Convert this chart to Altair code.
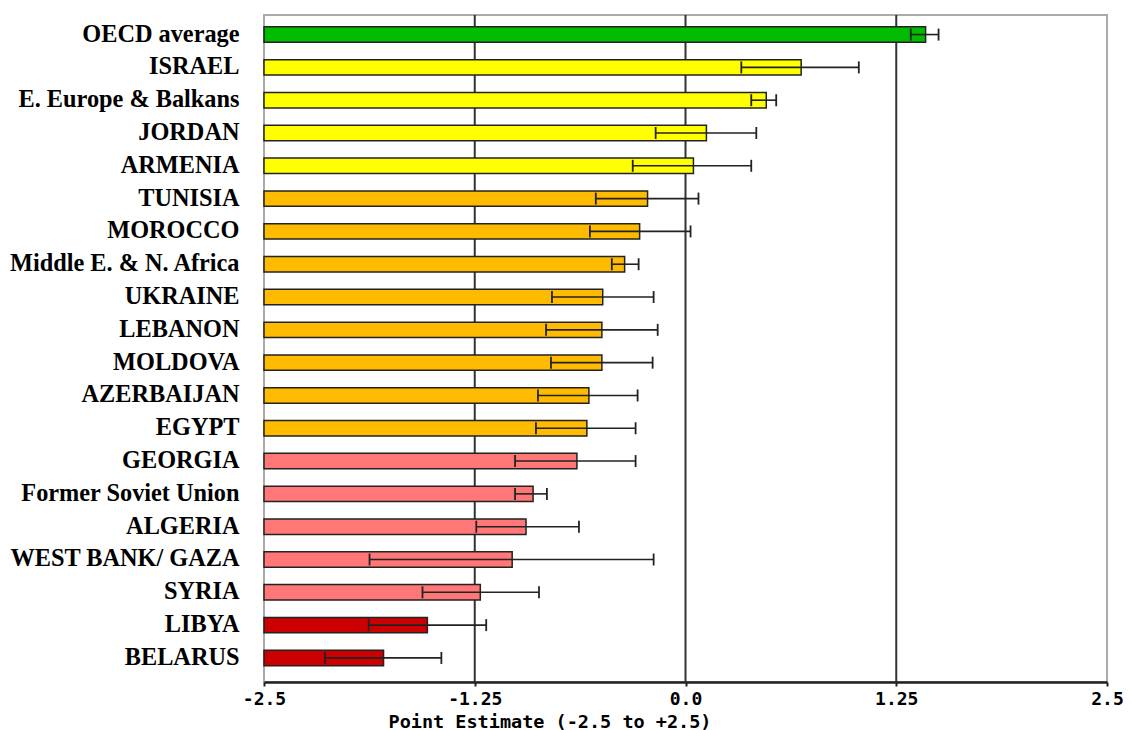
import altair as alt
import pandas as pd

countries = ["OECD average", "ISRAEL", "E. Europe & Balkans", "JORDAN", "ARMENIA",
             "TUNISIA", "MOROCCO", "Middle E. & N. Africa", "UKRAINE", "LEBANON",
             "MOLDOVA", "AZERBAIJAN", "EGYPT", "GEORGIA", "Former Soviet Union",
             "ALGERIA", "WEST BANK/ GAZA", "SYRIA", "LIBYA", "BELARUS"]
estimates = [1.424, 0.686, 0.479, 0.124, 0.047,
             -0.225, -0.272, -0.361, -0.491, -0.496,
             -0.496, -0.573, -0.585, -0.644, -0.904,
             -0.946, -1.028, -1.217, -1.531, -1.791]
lower = [1.336, 0.331, 0.390, -0.177, -0.313,
         -0.532, -0.567, -0.437, -0.792, -0.827,
         -0.798, -0.875, -0.887, -1.011, -1.011,
         -1.241, -1.874, -1.560, -1.879, -2.139]
upper = [1.501, 1.028, 0.538, 0.420, 0.390,
         0.077, 0.030, -0.278, -0.189, -0.165,
         -0.195, -0.284, -0.296, -0.296, -0.822,
         -0.632, -0.189, -0.869, -1.182, -1.448]
groups = ["g", "y", "y", "y", "y",
          "o", "o", "o", "o", "o",
          "o", "o", "o", "p", "p",
          "p", "p", "p", "r", "r"]
group_keys = ["g", "y", "o", "p", "r"]
group_colors = ["#00BB00", "#FFFF00", "#FFBB00", "#FF7777", "#CC0000"]
tick_values = [-2.5, -1.25, 0, 1.25, 2.5]
grid_values = [-1.25, 0, 1.25]

df = pd.DataFrame({"country": countries, "est": estimates, "lo": lower,
                   "hi": upper, "grp": groups, "base": [-2.5] * len(countries)})
grid_df = pd.DataFrame({"g": grid_values})

xscale = alt.Scale(domain=[-2.5, 2.5], nice=False, zero=False)
yscale = alt.Scale(paddingInner=0.53, paddingOuter=0.43, align=0.42)
ysort = countries

xaxis = alt.Axis(values=tick_values, grid=False,
                 labelExpr="datum.value == 0 ? '0.0' : '' + datum.value",
                 labelFont="DejaVu Sans Mono", labelFontWeight="bold", labelFontSize=18,
                 labelColor="#000", labelPadding=4, tickSize=4, tickColor="#222",
                 tickWidth=2, domainColor="#222", domainWidth=2.5,
                 labelOverlap=False, labelFlush=False,
                 title="Point Estimate (-2.5 to +2.5)", titleFont="DejaVu Sans Mono",
                 titleFontWeight="bold", titleFontSize=18.5, titleColor="#000",
                 titleAlign="left", titleX=124, titleY=39, titleBaseline="middle")
yaxis = alt.Axis(title=None, domain=False, ticks=False, labelPadding=25,
                 labelFont="Liberation Serif", labelFontWeight="bold",
                 labelFontSize=24.3, labelColor="#000", labelLimit=400)

grid = alt.Chart(grid_df).mark_rule(color="#333", strokeWidth=2).encode(
    x=alt.X("g:Q", scale=xscale, axis=xaxis)
)

bars = alt.Chart(df).mark_bar(stroke="#222", strokeWidth=1.5, opacity=1).encode(
    x=alt.X("base:Q", scale=xscale, axis=xaxis),
    x2="est:Q",
    y=alt.Y("country:N", sort=ysort, scale=yscale, axis=yaxis),
    color=alt.Color("grp:N", scale=alt.Scale(domain=group_keys, range=group_colors), legend=None),
)

err = alt.Chart(df).mark_rule(color="#222", strokeWidth=1.6).encode(
    x=alt.X("lo:Q", scale=xscale, axis=xaxis),
    x2="hi:Q",
    y=alt.Y("country:N", sort=ysort, scale=yscale, axis=yaxis),
)

cap_lo = alt.Chart(df).mark_tick(color="#222", size=12, thickness=1.8, opacity=1).encode(
    x=alt.X("lo:Q", scale=xscale, axis=xaxis),
    y=alt.Y("country:N", sort=ysort, scale=yscale, axis=yaxis),
)
cap_hi = alt.Chart(df).mark_tick(color="#222", size=12, thickness=1.8, opacity=1).encode(
    x=alt.X("hi:Q", scale=xscale, axis=xaxis),
    y=alt.Y("country:N", sort=ysort, scale=yscale, axis=yaxis),
)

chart = alt.layer(grid, bars, err, cap_lo, cap_hi).properties(
    width=843, height=667,
    autosize=alt.AutoSizeParams(type="none"),
    padding={"left": 256, "top": 7, "right": 17, "bottom": 48},
    background="white",
).configure_view(stroke="#aaaaaa", strokeWidth=2)

chart.save("out.html", embed_options={"renderer": "svg", "actions": False})
